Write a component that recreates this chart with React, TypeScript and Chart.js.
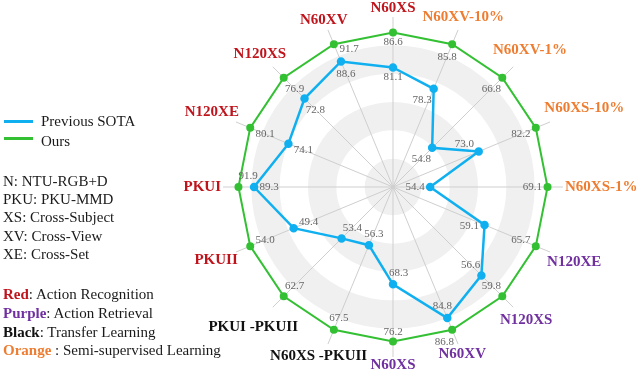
import React, { useEffect, useRef } from "react";
import { Chart, registerables } from "chart.js";

Chart.register(...registerables);

// ---- data ----
const categories = [
  "N60XS", "N60XV-10%", "N60XV-1%", "N60XS-10%", "N60XS-1%",
  "N120XE", "N120XS", "N60XV", "N60XS", "N60XS -PKUII",
  "PKUI -PKUII", "PKUII", "PKUI", "N120XE", "N120XS", "N60XV",
];
const taskGroups = [
  "rec", "semi", "semi", "semi", "semi",
  "ret", "ret", "ret", "ret", "tl",
  "tl", "rec", "rec", "rec", "rec", "rec",
];
const oursValues = [86.6, 85.8, 66.8, 82.2, 69.1, 65.7, 59.8, 86.8, 76.2, 67.5, 62.7, 54.0, 91.9, 80.1, 76.9, 91.7];
const sotaValues = [81.1, 78.3, 54.8, 73.0, 54.4, 59.1, 56.6, 84.8, 68.3, 56.3, 53.4, 49.4, 89.3, 74.1, 72.8, 88.6];
const seriesNames = ["Previous SOTA", "Ours"];
const notes = ["N: NTU-RGB+D", "PKU: PKU-MMD", "XS: Cross-Subject", "XV: Cross-View", "XE: Cross-Set"];
const taskNotes = [
  ["Red", ": Action Recognition", "rec"],
  ["Purple", ": Action Retrieval", "ret"],
  ["Black", ": Transfer Learning", "tl"],
  ["Orange", " : Semi-supervised Learning", "semi"],
];

// ---- style ----
const groupColor: Record<string, string> = {
  rec: "#C0141C",
  ret: "#7030A0",
  tl: "#111111",
  semi: "#EE7D31",
};
const BLUE = "#10B0F0";
const GREEN = "#33C033";
const SERIF = '"Liberation Serif", "Times New Roman", serif';
const AXIS_FONT = `bold 15px ${SERIF}`;
const VALUE_FONT = `11px ${SERIF}`;

// each axis normalised by our own result (ours = 100)
const sotaNorm = sotaValues.map((v, i) => (v / oursValues[i]) * 100);
const oursNorm = oursValues.map((v, i) => (v / oursValues[i]) * 100);
const rawSeries = [sotaValues, oursValues];

type Box = { x0: number; y0: number; x1: number; y1: number };
const overlaps = (a: Box, b: Box, g = 0) =>
  a.x0 < b.x1 + g && a.x1 + g > b.x0 && a.y0 < b.y1 + g && a.y1 + g > b.y0;

function axisLabelLayout(ctx: CanvasRenderingContext2D, s: any) {
  ctx.save();
  ctx.font = AXIS_FONT;
  const n = categories.length;
  const out = categories.map((lab, i) => {
    const a = (i * 2 * Math.PI) / n;
    const sn = Math.sin(a);
    const cs = Math.cos(a);
    const hw = ctx.measureText(lab).width / 2;
    const hh = 6.5;
    const r = s.drawingArea + 2 + hw * sn * sn + hh * cs * cs;
    const x = s.xCenter + r * sn;
    const y = s.yCenter - r * cs;
    return { lab, x, y, hw, hh, a, box: { x0: x - hw, y0: y - hh, x1: x + hw, y1: y + hh } as Box };
  });
  // slide a label along the tangent if it runs into its previous neighbour
  out.forEach((o, i) => {
    const prev = out[(i - 1 + n) % n];
    let k = 0;
    while (overlaps(o.box, prev.box, 3) && k < 40) {
      o.x += Math.cos(o.a);
      o.y += Math.sin(o.a);
      o.box = { x0: o.x - o.hw, y0: o.y - o.hh, x1: o.x + o.hw, y1: o.y + o.hh };
      k++;
    }
  });
  ctx.restore();
  return out;
}

const bandsPlugin = {
  id: "bands",
  beforeDraw(chart: any) {
    const s = chart.scales.r;
    const ctx = chart.ctx;
    const R = s.drawingArea;
    ctx.save();
    for (let i = 5; i >= 0; i--) {
      ctx.beginPath();
      ctx.arc(s.xCenter, s.yCenter, ((i + 1) * R) / 6, 0, Math.PI * 2);
      ctx.fillStyle = i % 2 === 0 ? "#f0f0f0" : "#ffffff";
      ctx.fill();
    }
    ctx.restore();
  },
};

const valueLabelPlugin = {
  id: "valueLabels",
  afterDatasetsDraw(chart: any) {
    const s = chart.scales.r;
    const ctx = chart.ctx;
    const axisBoxes = axisLabelLayout(ctx, s).map((o) => o.box);
    ctx.save();
    ctx.font = VALUE_FONT;
    ctx.fillStyle = "#666666";
    ctx.textAlign = "center";
    ctx.textBaseline = "middle";

    const metas = chart.data.datasets.map((_: any, di: number) => chart.getDatasetMeta(di));
    const pts: { x: number; y: number }[] = [];
    const segs: [number, number, number, number][] = [];
    metas.forEach((m: any) => {
      const d = m.data;
      d.forEach((p: any, i: number) => {
        pts.push({ x: p.x, y: p.y });
        const q = d[(i + 1) % d.length];
        segs.push([p.x, p.y, q.x, q.y]);
      });
    });
    const placed: Box[] = [...axisBoxes];
    const cost = (b: Box) => {
      let c = 0;
      for (const p of pts) {
        const nx = Math.max(b.x0, Math.min(p.x, b.x1));
        const ny = Math.max(b.y0, Math.min(p.y, b.y1));
        if (Math.hypot(nx - p.x, ny - p.y) < 4) c += 6;
      }
      for (const [ax, ay, bx, by] of segs) {
        let inside = 0;
        for (let k = 0; k <= 40; k++) {
          const t = k / 40;
          const x = ax + (bx - ax) * t;
          const y = ay + (by - ay) * t;
          if (x > b.x0 && x < b.x1 && y > b.y0 && y < b.y1) inside++;
        }
        c += Math.min(inside, 4) * 0.6;
      }
      for (const o of placed) {
        if (overlaps(b, o)) c += 8;
      }
      return c;
    };
    const rots = [0, -25, 25, -50, 50, -75, 75, -100, 100, -125, 125];
    // ours first, then previous SOTA
    [1, 0].forEach((di) => {
      metas[di].data.forEach((pt: any, i: number) => {
        const txt = rawSeries[di][i].toFixed(1);
        const hw = ctx.measureText(txt).width / 2 + 0.5;
        const hh = 4.5;
        const baseA = Math.atan2(s.yCenter - pt.y, s.xCenter - pt.x);
        let best: any = null;
        for (const r of rots) {
          const a = baseA + (r * Math.PI) / 180;
          const ux = Math.cos(a);
          const uy = Math.sin(a);
          const off = 5 + hw * Math.abs(ux) + hh * Math.abs(uy);
          const cx = pt.x + ux * off;
          const cy = pt.y + uy * off;
          const b = { x0: cx - hw, y0: cy - hh, x1: cx + hw, y1: cy + hh };
          const c = cost(b) + Math.abs(r) / 40;
          if (!best || c < best.c) best = { c, cx, cy, b };
        }
        placed.push(best.b);
        ctx.fillText(txt, best.cx, best.cy + 0.5);
      });
    });
    ctx.restore();
  },
};

const axisLabelPlugin = {
  id: "axisLabels",
  afterDraw(chart: any) {
    const s = chart.scales.r;
    const ctx = chart.ctx;
    const layout = axisLabelLayout(ctx, s);
    ctx.save();
    ctx.font = AXIS_FONT;
    ctx.textAlign = "center";
    ctx.textBaseline = "middle";
    layout.forEach((o, i) => {
      ctx.fillStyle = groupColor[taskGroups[i]];
      ctx.fillText(o.lab, o.x, o.y);
    });
    ctx.restore();
  },
};

const textStyle: React.CSSProperties = {
  position: "absolute",
  left: 3,
  font: `15px ${SERIF}`,
  lineHeight: "18px",
  color: "#1a1a1a",
  whiteSpace: "nowrap",
};

export default function App() {
  const ref = useRef<HTMLCanvasElement>(null);

  useEffect(() => {
    document.body.style.margin = "0";
    const chart = new Chart(ref.current as HTMLCanvasElement, {
      type: "radar",
      data: {
        labels: categories,
        datasets: [
          {
            label: seriesNames[0],
            data: sotaNorm,
            borderColor: BLUE,
            backgroundColor: BLUE,
            pointBackgroundColor: BLUE,
            pointBorderColor: BLUE,
            borderWidth: 2.5,
            pointRadius: 3,
            fill: false,
          },
          {
            label: seriesNames[1],
            data: oursNorm,
            borderColor: GREEN,
            backgroundColor: GREEN,
            pointBackgroundColor: GREEN,
            pointBorderColor: GREEN,
            borderWidth: 2,
            pointRadius: 3,
            fill: false,
          },
        ],
      },
      options: {
        responsive: false,
        animation: false,
        layout: { padding: { left: 223, right: 77, top: 17, bottom: 14 } },
        plugins: { legend: { display: false }, tooltip: { enabled: false } },
        scales: {
          r: {
            min: 72,
            max: 102.8,
            ticks: { display: false },
            grid: { display: false },
            angleLines: { display: true, color: "#cfcfcf", lineWidth: 1 },
            pointLabels: { display: false },
          },
        },
      },
      plugins: [bandsPlugin, valueLabelPlugin, axisLabelPlugin],
    });
    return () => chart.destroy();
  }, []);

  const noteY = [180.5, 198.8, 217, 235.5, 254];
  const taskY = [294.3, 313, 331.7, 350.2];

  return (
    <div style={{ position: "relative", width: 640, height: 371, background: "#fff" }}>
      <canvas ref={ref} width={640} height={371} style={{ display: "block" }} />
      <div style={{ position: "absolute", left: 4, top: 119.5, width: 29, height: 3, background: BLUE }} />
      <div style={{ ...textStyle, left: 41, top: 121 - 9 }}>{seriesNames[0]}</div>
      <div style={{ position: "absolute", left: 4, top: 137, width: 29, height: 3, background: GREEN }} />
      <div style={{ ...textStyle, left: 41, top: 140.5 - 9 }}>{seriesNames[1]}</div>
      {notes.map((t, i) => (
        <div key={t} style={{ ...textStyle, top: noteY[i] - 9 }}>{t}</div>
      ))}
      {taskNotes.map(([c, rest, g], i) => (
        <div key={c} style={{ ...textStyle, top: taskY[i] - 9 }}>
          <b style={{ color: groupColor[g] }}>{c}</b>
          {rest}
        </div>
      ))}
    </div>
  );
}
